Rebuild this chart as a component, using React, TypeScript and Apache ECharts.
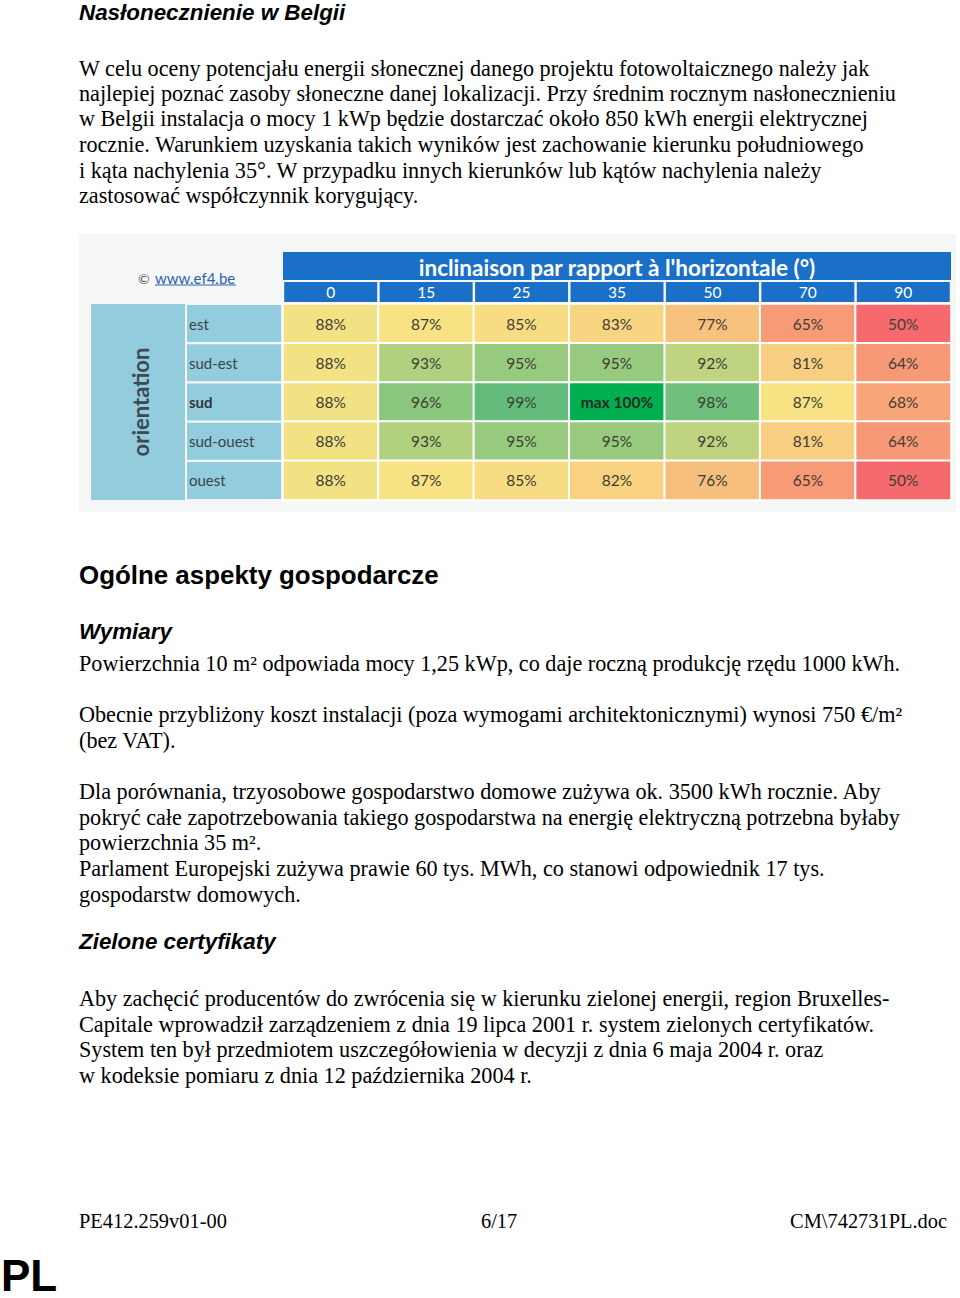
import React, { useEffect, useRef } from 'react';
import * as echarts from 'echarts';

// ---- Table data ----
const inclinations = ['0', '15', '25', '35', '50', '70', '90'];
const orientations = ['est', 'sud-est', 'sud', 'sud-ouest', 'ouest'];
const estValues = [88, 87, 85, 83, 77, 65, 50];
const sudEstValues = [88, 93, 95, 95, 92, 81, 64];
const sudValues = [88, 96, 99, 100, 98, 87, 68];
const sudOuestValues = [88, 93, 95, 95, 92, 81, 64];
const ouestValues = [88, 87, 85, 82, 76, 65, 50];
const rowValues = [estValues, sudEstValues, sudValues, sudOuestValues, ouestValues];
const boldOrientation = 'sud';

const tableTitle = "inclinaison par rapport à l'horizontale (°)";
const orientationTitle = 'orientation';
const sourceMark = '©';
const sourceLink = 'www.ef4.be';

// ---- Page texts ----
const heading1 = 'Nasłonecznienie w Belgii';
const introLines = [
  'W celu oceny potencjału energii słonecznej danego projektu fotowoltaicznego należy jak',
  'najlepiej poznać zasoby słoneczne danej lokalizacji. Przy średnim rocznym nasłonecznieniu',
  'w Belgii instalacja o mocy 1 kWp będzie dostarczać około 850 kWh energii elektrycznej',
  'rocznie. Warunkiem uzyskania takich wyników jest zachowanie kierunku południowego',
  'i kąta nachylenia 35°. W przypadku innych kierunków lub kątów nachylenia należy',
  'zastosować współczynnik korygujący.',
];
const heading2 = 'Ogólne aspekty gospodarcze';
const heading3 = 'Wymiary';
const dimLines = [
  'Powierzchnia 10 m² odpowiada mocy 1,25 kWp, co daje roczną produkcję rzędu 1000 kWh.',
  'Obecnie przybliżony koszt instalacji (poza wymogami architektonicznymi) wynosi 750 €/m²',
  '(bez VAT).',
  'Dla porównania, trzyosobowe gospodarstwo domowe zużywa ok. 3500 kWh rocznie. Aby',
  'pokryć całe zapotrzebowania takiego gospodarstwa na energię elektryczną potrzebna byłaby',
  'powierzchnia 35 m².',
  'Parlament Europejski zużywa prawie 60 tys. MWh, co stanowi odpowiednik 17 tys.',
  'gospodarstw domowych.',
];
const heading4 = 'Zielone certyfikaty';
const greenLines = [
  'Aby zachęcić producentów do zwrócenia się w kierunku zielonej energii, region Bruxelles-',
  'Capitale wprowadził zarządzeniem z dnia 19 lipca 2001 r. system zielonych certyfikatów.',
  'System ten był przedmiotem uszczegółowienia w decyzji z dnia 6 maja 2004 r. oraz',
  'w kodeksie pomiaru z dnia 12 października 2004 r.',
];
const footerLeft = 'PE412.259v01-00';
const footerMid = '6/17';
const footerRight = 'CM\\742731PL.doc';
const langMark = 'PL';

// ---- layout ----
const introY = [68, 93, 118, 144, 170, 195];
const dimY = [663, 714, 740, 791, 817, 842, 868, 894];
const greenY = [998, 1024, 1049, 1075];

const RED = [246, 106, 110];
const YELLOW = [248, 228, 132];
const GREEN = [99, 188, 123];
const MAX_GREEN = '#00b050';

function mix(a: number[], b: number[], t: number) {
  const c = a.map((v, i) => Math.round(v + (b[i] - v) * t));
  return `rgb(${c[0]},${c[1]},${c[2]})`;
}
function cellColor(v: number, min: number, mid: number, max: number) {
  if (v <= mid) return mix(RED, YELLOW, Math.max(0, (v - min) / (mid - min)));
  return mix(YELLOW, GREEN, Math.min(1, (v - mid) / (max - mid)));
}

export default function App() {
  const ref = useRef<HTMLDivElement>(null);
  useEffect(() => {
    if (!ref.current) return;
    const chart = echarts.init(ref.current, undefined, { renderer: 'svg' });
    const all = rowValues.flat();
    const vMin = Math.min(...all);
    const vMax = Math.max(...all);
    const data: any[] = [];
    rowValues.forEach((row, r) => row.forEach((v, c) => data.push([c, r, v])));
    const uniq = Array.from(new Set(all)).sort((a, b) => a - b);
    const pieces = uniq.map((v) => ({
      value: v,
      color: v === vMax ? MAX_GREEN : cellColor(v, vMin, 87.5, 99),
    }));

    const serif = '"Liberation Serif", "Times New Roman", serif';
    const sans = '"Liberation Sans", Arial, sans-serif';
    const txt = (x: number, y: number, text: string, font: string, fill = '#000', align = 'left') => ({
      type: 'text',
      x,
      y,
      silent: true,
      style: { text, font, fill, textAlign: align, textVerticalAlign: 'middle' },
    });
    const bodyFont = `22.2px ${serif}`;
    const footFont = `20.4px ${serif}`;
    const subFont = `italic bold 22.4px ${sans}`;

    const graphics: any[] = [
      { type: 'rect', shape: { x: 79, y: 234, width: 877, height: 278 }, style: { fill: '#f5f7f7' }, z: -10 },
      { type: 'rect', shape: { x: 283, y: 252, width: 668, height: 28 }, style: { fill: '#1a6fc7' } },
      txt(617, 267, tableTitle, 'bold 22.5px Lato', '#ffffff', 'center'),
      { type: 'rect', shape: { x: 91, y: 304, width: 94, height: 196 }, style: { fill: '#93cddd' } },
      {
        type: 'text',
        x: 140,
        y: 402,
        rotation: Math.PI / 2,
        style: { text: orientationTitle, font: 'bold 22px Lato', fill: '#3b4a53', textAlign: 'center', textVerticalAlign: 'middle' },
      },
      txt(138, 278, sourceMark, '14px Lato', '#555', 'left'),
      txt(155, 278, sourceLink, '15px Lato', '#2b63ae', 'left'),
      { type: 'line', shape: { x1: 155, y1: 285, x2: 236, y2: 285 }, style: { stroke: '#2b63ae', lineWidth: 1 } },
      txt(79, 12, heading1, subFont),
      ...introLines.map((l, i) => txt(79, introY[i], l, bodyFont)),
      txt(79, 575, heading2, `bold 25.9px ${sans}`),
      txt(79, 631, heading3, subFont),
      ...dimLines.map((l, i) => txt(79, dimY[i], l, bodyFont)),
      txt(79, 941, heading4, subFont),
      ...greenLines.map((l, i) => txt(79, greenY[i], l, bodyFont)),
      txt(79, 1221, footerLeft, footFont),
      txt(481, 1221, footerMid, footFont),
      txt(947, 1221, footerRight, footFont, '#000', 'right'),
      txt(1, 1275, langMark, `bold 44px ${sans}`),
    ];

    chart.setOption({
      animation: false,
      backgroundColor: '#ffffff',
      grid: { left: 283, top: 304, width: 668, height: 196 },
      visualMap: {
        type: 'piecewise',
        show: false,
        dimension: 2,
        seriesIndex: 0,
        pieces,
      },
      xAxis: {
        type: 'category',
        position: 'top',
        data: inclinations,
        axisLine: { show: false },
        axisTick: { show: false },
        splitLine: { show: false },
        axisLabel: {
          interval: 0,
          margin: 2,
          color: '#ffffff',
          fontFamily: 'Lato',
          fontSize: 15.5,
          backgroundColor: '#1a6fc7',
          width: 93,
          height: 20,
          lineHeight: 20,
          align: 'center',
        },
      },
      yAxis: {
        type: 'category',
        inverse: true,
        data: orientations,
        axisLine: { show: false },
        axisTick: { show: false },
        splitLine: { show: false },
        axisLabel: {
          interval: 0,
          margin: 96,
          align: 'left',
          backgroundColor: '#93cddd',
          width: 92,
          height: 37,
          lineHeight: 37,
          padding: [0, 0, 0, 2],
          formatter: (v: string) => (v === boldOrientation ? `{b|${v}}` : `{n|${v}}`),
          rich: {
            n: { fontFamily: 'Lato', fontSize: 15, color: '#3a434a', lineHeight: 37 },
            b: { fontFamily: 'Lato', fontSize: 15, fontWeight: 'bold', color: '#2e363c', lineHeight: 37 },
          },
        },
      },
      series: [
        {
          type: 'heatmap',
          data,
          itemStyle: { borderColor: '#ffffff', borderWidth: 2 },
          emphasis: { disabled: true },
          label: {
            show: true,
            formatter: (p: any) => {
              const v = p.value[2];
              return v === vMax ? `{m|max ${v}%}` : `{d|${v}%}`;
            },
            rich: {
              d: { fontFamily: 'Lato', fontSize: 15.5, color: '#3d3d35' },
              m: { fontFamily: 'Lato', fontSize: 15.5, fontWeight: 'bold', color: '#2a2a22' },
            },
          },
        },
      ],
      graphic: graphics,
    });
    return () => chart.dispose();
  }, []);
  return (
    <div
      ref={ref}
      style={{ position: 'absolute', left: 0, top: 0, width: 960, height: 1298, background: '#fff' }}
    />
  );
}
